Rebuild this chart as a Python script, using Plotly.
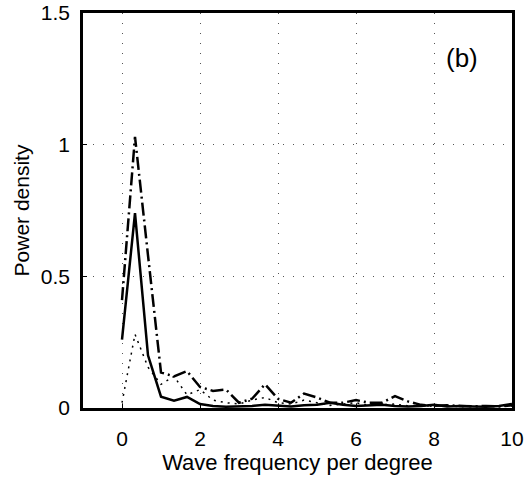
import plotly.graph_objects as go

freq = [k / 3 for k in range(31)]
solid_vals = [0.26, 0.74, 0.20, 0.043, 0.028, 0.042, 0.015, 0.008, 0.005, 0.006,
              0.008, 0.012, 0.008, 0.006, 0.010, 0.012, 0.020, 0.012, 0.008, 0.010,
              0.012, 0.008, 0.006, 0.008, 0.012, 0.006, 0.008, 0.006, 0.005, 0.008, 0.015]
dashdot_vals = [0.41, 1.03, 0.58, 0.135, 0.12, 0.14, 0.08, 0.065, 0.07, 0.02,
                0.035, 0.09, 0.035, 0.02, 0.055, 0.04, 0.02, 0.02, 0.03, 0.02,
                0.02, 0.045, 0.025, 0.012, 0.008, 0.01, 0.008, 0.006, 0.008, 0.006, 0.01]
dotted_vals = [0.02, 0.28, 0.155, 0.09, 0.12, 0.05, 0.07, 0.03, 0.02, 0.015,
               0.03, 0.04, 0.02, 0.015, 0.03, 0.02, 0.01, 0.015, 0.02, 0.01,
               0.012, 0.015, 0.008, 0.01, 0.006, 0.008, 0.005, 0.006, 0.005, 0.006, 0.008]
x_ticks = [0, 2, 4, 6, 8, 10]
y_ticks = [0, 0.5, 1, 1.5]
y_tick_text = ["0", "0.5", "1", "1.5"]

FONT = "Liberation Sans, Arial"

fig = go.Figure()
fig.add_trace(go.Scatter(x=freq, y=dotted_vals, mode="lines",
                         line=dict(color="black", width=1.5, dash="2px,5px")))
fig.add_trace(go.Scatter(x=freq, y=dashdot_vals, mode="lines",
                         line=dict(color="black", width=2.5, dash="13px,4px,2px,4px")))
fig.add_trace(go.Scatter(x=freq, y=solid_vals, mode="lines",
                         line=dict(color="black", width=2.5)))

axis_common = dict(
    showline=True, linecolor="black", linewidth=2.5, mirror=True,
    showgrid=True, gridcolor="#555", gridwidth=1, griddash="1px,9px",
    ticks="inside", ticklen=4, tickcolor="black",
    tickfont=dict(family=FONT, size=21, color="black"),
    zeroline=False, automargin=False,
)

fig.update_layout(
    width=531, height=482,
    margin=dict(l=83, r=19, t=13, b=74),
    paper_bgcolor="white", plot_bgcolor="white",
    showlegend=False,
    font=dict(family=FONT, size=21, color="black"),
    xaxis=dict(range=[-1, 10], tickvals=x_ticks, ticklabelstandoff=10,
               title=dict(text="Wave frequency per degree", standoff=1,
                          font=dict(size=22)),
               **axis_common),
    yaxis=dict(range=[0, 1.5], tickvals=y_ticks, ticktext=y_tick_text,
               ticklabelstandoff=6,
               title=dict(text="Power density", standoff=6, font=dict(size=21)),
               **axis_common),
    annotations=[dict(text="(b)", x=0.925, y=0.93, xref="paper", yref="paper",
                      showarrow=False, font=dict(size=26, color="black"))],
)

fig.write_html("out.html", config={"displayModeBar": False},
               post_script="document.body.style.margin='0';document.body.style.overflow='hidden';")
